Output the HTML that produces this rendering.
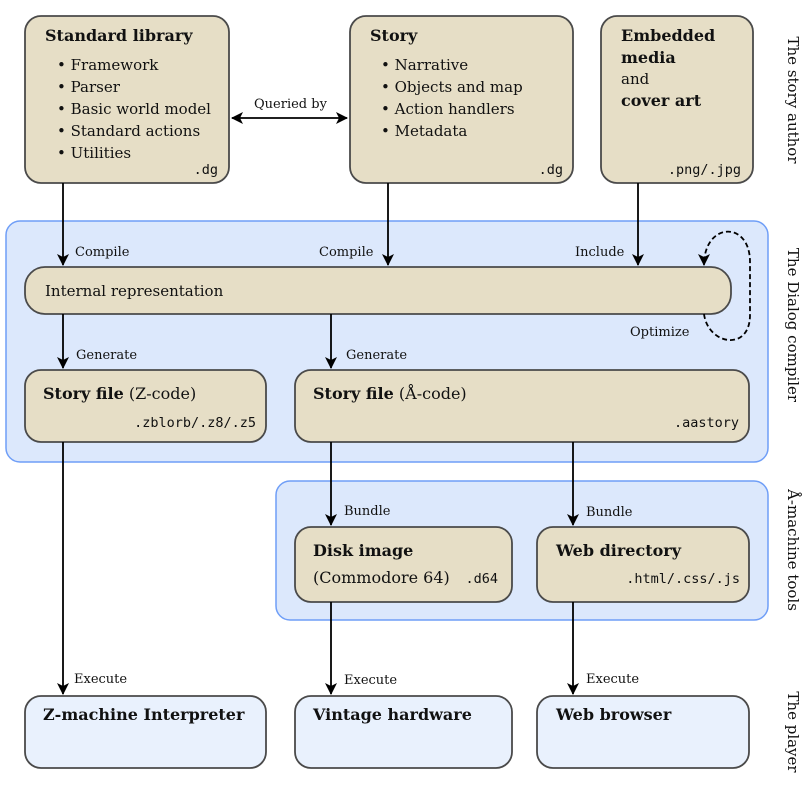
<!DOCTYPE html>
<html><head><style>body{margin:0;background:#fff}svg{display:block}</style></head><body>
<svg width="810" height="787" xmlns="http://www.w3.org/2000/svg" font-family="'DejaVu Serif',serif">
<defs><marker id="a" markerWidth="12" markerHeight="12" refX="11" refY="6" orient="auto" markerUnits="userSpaceOnUse"><path d="M0,0 L12,6 L0,12 L3,6z" fill="#000"/></marker>
<marker id="s" markerWidth="12" markerHeight="12" refX="1" refY="6" orient="auto" markerUnits="userSpaceOnUse"><path d="M12,0 L0,6 L12,12 L9,6z" fill="#000"/></marker></defs>
<g fill="#dce8fc" stroke="#6f9ef7" stroke-width="1.5">
<rect x="6" y="221" width="762" height="241" rx="14"/>
<rect x="276" y="481" width="492" height="139" rx="14"/>
</g>
<g fill="#e6dec6" stroke="#4a4a4a" stroke-width="1.8">
<rect x="25" y="16" width="204" height="167" rx="16"/>
<rect x="350" y="16" width="223" height="167" rx="16"/>
<rect x="601" y="16" width="152" height="167" rx="16"/>
<rect x="25" y="267" width="706" height="47" rx="20"/>
<rect x="25" y="370" width="241" height="72" rx="16"/>
<rect x="295" y="370" width="454" height="72" rx="16"/>
<rect x="295" y="527" width="217" height="75" rx="16"/>
<rect x="537" y="527" width="212" height="75" rx="16"/>
</g>
<g fill="#e9f1fd" stroke="#4a4a4a" stroke-width="1.8">
<rect x="25" y="696" width="241" height="72" rx="16"/>
<rect x="295" y="696" width="217" height="72" rx="16"/>
<rect x="537" y="696" width="212" height="72" rx="16"/>
</g>
<g stroke="#000" stroke-width="1.8" fill="none">
<line x1="63" y1="183" x2="63" y2="265" marker-end="url(#a)"/>
<line x1="388" y1="183" x2="388" y2="265" marker-end="url(#a)"/>
<line x1="638" y1="183" x2="638" y2="265" marker-end="url(#a)"/>
<line x1="232" y1="118" x2="347" y2="118" marker-start="url(#s)" marker-end="url(#a)"/>
<line x1="63" y1="314" x2="63" y2="368" marker-end="url(#a)"/>
<line x1="331" y1="314" x2="331" y2="368" marker-end="url(#a)"/>
<line x1="63" y1="442" x2="63" y2="694" marker-end="url(#a)"/>
<line x1="331" y1="442" x2="331" y2="525" marker-end="url(#a)"/>
<line x1="573" y1="442" x2="573" y2="525" marker-end="url(#a)"/>
<line x1="331" y1="602" x2="331" y2="694" marker-end="url(#a)"/>
<line x1="573" y1="602" x2="573" y2="694" marker-end="url(#a)"/>
<path d="M704,314 C708,345 750,352 750,315 L750,262 C750,220 704,222 704,265" stroke-dasharray="5,3" marker-end="url(#a)"/>
</g>
<g font-size="15" fill="#111">
<text x="45" y="41" font-weight="bold" font-size="16">Standard library</text>
<text x="57" y="70">• Framework</text><text x="57" y="92">• Parser</text><text x="57" y="114">• Basic world model</text><text x="57" y="136">• Standard actions</text><text x="57" y="158">• Utilities</text>
<text x="370" y="41" font-weight="bold" font-size="16">Story</text>
<text x="381" y="70">• Narrative</text><text x="381" y="92">• Objects and map</text><text x="381" y="114">• Action handlers</text><text x="381" y="136">• Metadata</text>
<text x="621" y="41" font-weight="bold" font-size="16">Embedded</text>
<text x="621" y="63" font-weight="bold" font-size="16">media</text>
<text x="621" y="84">and</text>
<text x="621" y="106" font-weight="bold" font-size="16">cover art</text>
<text x="45" y="296" font-size="15">Internal representation</text>
<text x="43" y="399" font-size="16"><tspan font-weight="bold">Story file</tspan> (Z-code)</text>
<text x="313" y="399" font-size="16"><tspan font-weight="bold">Story file</tspan> (Å-code)</text>
<text x="313" y="556" font-weight="bold" font-size="16">Disk image</text>
<text x="313" y="583" font-size="16">(Commodore 64)</text>
<text x="556" y="556" font-weight="bold" font-size="16">Web directory</text>
<text x="43" y="720" font-weight="bold" font-size="16">Z-machine Interpreter</text>
<text x="313" y="720" font-weight="bold" font-size="16">Vintage hardware</text>
<text x="556" y="720" font-weight="bold" font-size="16">Web browser</text>
</g>
<g font-family="'DejaVu Sans Mono',monospace" font-size="13.5" fill="#111" text-anchor="end">
<text x="218" y="174">.dg</text><text x="563" y="174">.dg</text><text x="741" y="174">.png/.jpg</text>
<text x="256" y="427">.zblorb/.z8/.z5</text><text x="739" y="427">.aastory</text>
<text x="498" y="583">.d64</text><text x="740" y="583">.html/.css/.js</text>
</g>
<g font-size="13" fill="#111">
<text x="254" y="108">Queried by</text>
<text x="75" y="256">Compile</text><text x="319" y="256">Compile</text><text x="575" y="256">Include</text>
<text x="630" y="336">Optimize</text>
<text x="76" y="359">Generate</text><text x="346" y="359">Generate</text>
<text x="344" y="515">Bundle</text><text x="586" y="516">Bundle</text>
<text x="74" y="683">Execute</text><text x="344" y="684">Execute</text><text x="586" y="683">Execute</text>
</g>
<g font-size="15" fill="#111" text-anchor="middle">
<text transform="translate(788,100) rotate(90)">The story author</text>
<text transform="translate(788,325) rotate(90)">The Dialog compiler</text>
<text transform="translate(788,550) rotate(90)">Å-machine tools</text>
<text transform="translate(788,732) rotate(90)">The player</text>
</g>
</svg>
</body></html>
